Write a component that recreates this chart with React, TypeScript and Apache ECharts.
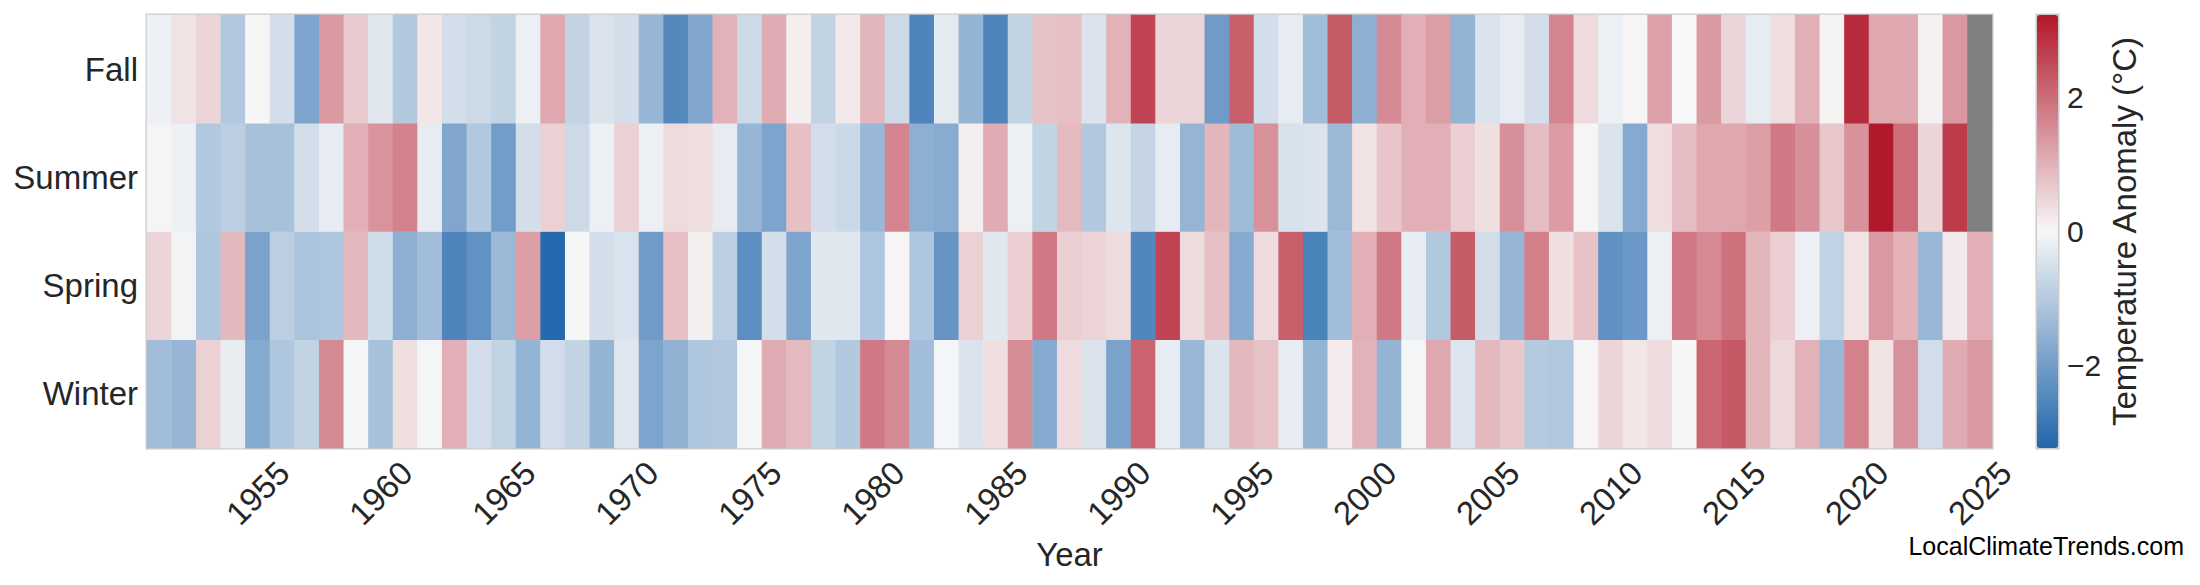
import React, { useEffect, useRef } from 'react';
import * as echarts from 'echarts';

const FONT = "'Liberation Sans', Arial, Helvetica, sans-serif";
const TEXT = '#262626';

const firstYear = 1951;
const lastYear = 2025;
const years: string[] = [];
for (let y = firstYear; y <= lastYear; y++) years.push(String(y));

const seasons = ['Winter', 'Spring', 'Summer', 'Fall'];

const fall: (number | null)[] = [
  -0.15, 0.3, 0.5, -1.05, 0.02, -0.55, -1.85, 1.35, 0.65, -0.35,
  -1.05, 0.25, -0.55, -0.65, -0.8, -0.17, 1.15, -0.8, -0.42, -0.55,
  -1.45, -2.45, -1.8, 1.0, -0.65, 1.1, 0.12, -0.8, 0.2, 0.95,
  -0.65, -2.55, -0.3, -1.5, -2.55, -0.8, 0.75, 0.8, -0.42, 1.0,
  2.6, 0.5, 0.5, -2.05, 2.2, -0.55, -0.25, -1.3, 2.25, -1.6,
  1.58, 1.05, 1.3, -1.5, -0.42, -0.25, -0.55, 1.65, 0.4, -0.17,
  0.05, 1.25, 0.0, 1.35, 0.5, -0.25, 0.38, 1.05, 0.06, 2.97,
  1.15, 1.15, 0.1, 1.37, null,
];

const summer: (number | null)[] = [
  0.05, -0.15, -1.05, -0.9, -1.2, -1.2, -0.55, -0.25, 1.05, 1.45,
  1.7, -0.25, -1.8, -1.05, -2.0, -0.55, 0.55, -0.65, -0.17, 0.55,
  -0.17, 0.4, 0.37, -0.25, -1.45, -1.85, 0.8, -0.55, -0.68, -1.42,
  1.65, -1.6, -1.68, 0.12, 1.1, -0.17, -0.8, 0.88, -1.05, -0.4,
  -0.75, -0.25, -1.47, 0.95, -1.35, 1.48, -0.48, -0.42, -1.4, 0.3,
  0.72, 1.05, 1.05, 0.58, 0.35, 1.5, 0.85, 1.32, 0.05, -0.42,
  -1.72, 0.37, 0.85, 1.15, 1.15, 1.28, 1.85, 1.5, 0.7, 1.47,
  3.24, 2.0, 0.5, 2.72, null,
];

const spring: (number | null)[] = [
  0.5, -0.08, -1.1, 0.9, -1.9, -0.9, -1.15, -1.1, 0.9, -0.6,
  -1.6, -1.3, -2.55, -2.25, -1.4, 1.28, -3.2, 0.02, -0.55, -0.45,
  -2.05, 0.8, 0.12, -0.9, -2.35, -0.55, -1.85, -0.35, -0.35, -1.1,
  0.05, -1.1, -2.2, 0.55, -0.35, 0.58, 1.85, 0.58, 0.52, 0.4,
  -2.5, 2.6, 0.4, 0.8, -1.7, 0.4, 2.2, -2.62, -1.3, 1.05,
  1.84, -0.25, -1.05, 2.25, -0.55, -1.45, 1.75, 0.35, 0.75, -2.28,
  -2.12, -0.17, 1.85, 1.6, 1.95, 0.95, 0.58, -0.17, -0.82, 0.3,
  1.37, 1.0, -1.42, 0.2, 1.05,
];

const winter: (number | null)[] = [
  -1.3, -1.45, 0.55, -0.22, -1.72, -1.1, -0.8, 1.6, -0.05, -1.2,
  0.35, -0.05, 1.05, -0.55, -0.8, -1.5, -0.57, -0.8, -1.5, -0.37,
  -1.85, -1.55, -1.1, -1.05, -0.05, 1.1, 0.88, -0.8, -1.05, 1.84,
  1.6, -1.3, -0.05, -0.42, 0.35, 1.55, -1.72, 0.4, -0.42, -1.9,
  2.15, -0.25, -1.43, -0.42, 0.9, 0.75, -0.25, -1.5, 0.18, 1.0,
  -1.5, -0.05, 1.15, -0.4, 0.9, 0.68, -1.0, -1.08, 0.05, 0.5,
  0.25, 0.4, 0.02, 2.12, 2.3, 0.95, 0.45, 1.0, -1.42, 1.7,
  0.3, 1.48, -0.57, 1.1, 1.35,
];

const colorMin = -3.24;
const colorMax = 3.24;
const colorbarTicks = [-2, 0, 2];
const paletteStops = ['#2166ac', '#f7f7f7', '#b2182b'];
const missingColor = '#808080';

export default function App() {
  const ref = useRef<HTMLDivElement>(null);

  useEffect(() => {
    if (!ref.current) return;
    const chart = echarts.init(ref.current, null, { renderer: 'svg' });

    const rows = [winter, spring, summer, fall];
    const cells: number[][] = [];
    const missing: number[][] = [];
    rows.forEach((row, yi) => {
      row.forEach((v, xi) => {
        if (v === null) missing.push([xi, yi, 0]);
        else cells.push([xi, yi, v]);
      });
    });

    const fmtTick = (v: number) => (v < 0 ? '\u2212' + Math.abs(v) : String(v));

    chart.setOption({
      animation: false,
      backgroundColor: '#ffffff',
      textStyle: { fontFamily: FONT },
      grid: [
        {
          left: 147, top: 15, width: 1845, height: 433,
          show: true, borderColor: '#cccccc', borderWidth: 3,
          backgroundColor: 'transparent',
        },
        {
          left: 2037, top: 15, width: 21, height: 433,
          show: true, borderColor: '#cccccc', borderWidth: 3,
          backgroundColor: 'transparent',
        },
      ],
      xAxis: [
        {
          type: 'category',
          gridIndex: 0,
          data: years,
          axisLine: { show: false },
          axisTick: { show: false },
          splitLine: { show: false },
          axisLabel: {
            interval: (_i: number, v: string) => Number(v) % 5 === 0,
            rotate: 45,
            align: 'center',
            verticalAlign: 'middle',
            margin: 45,
            fontSize: 33,
            color: TEXT,
            fontFamily: FONT,
          },
          name: 'Year',
          nameLocation: 'middle',
          nameGap: 87,
          nameTextStyle: { fontSize: 33, color: TEXT, fontFamily: FONT },
        },
        { type: 'value', gridIndex: 1, show: false, min: 0, max: 1 },
      ],
      yAxis: [
        {
          type: 'category',
          gridIndex: 0,
          data: seasons,
          axisLine: { show: false },
          axisTick: { show: false },
          splitLine: { show: false },
          axisLabel: { fontSize: 33, color: TEXT, margin: 9, fontFamily: FONT },
        },
        {
          type: 'value',
          gridIndex: 1,
          position: 'right',
          min: colorMin,
          max: colorMax,
          axisLine: { show: false },
          axisTick: { show: false },
          splitLine: { show: false },
          axisLabel: {
            customValues: colorbarTicks,
            formatter: fmtTick,
            fontSize: 30,
            color: TEXT,
            margin: 9,
            fontFamily: FONT,
          },
          name: 'Temperature Anomaly (\u00b0C)',
          nameLocation: 'middle',
          nameRotate: 90,
          nameGap: 50,
          nameTextStyle: { fontSize: 33, color: TEXT, fontFamily: FONT },
        },
      ],
      visualMap: [
        {
          type: 'continuous',
          seriesIndex: 0,
          min: colorMin,
          max: colorMax,
          inRange: { color: paletteStops },
          calculable: false,
          show: true,
          orient: 'vertical',
          left: 2037,
          top: 15,
          itemWidth: 21,
          itemHeight: 433,
          padding: 0,
          textGap: 0,
          hoverLink: false,
        },
        {
          type: 'continuous',
          seriesIndex: 1,
          min: 0,
          max: 1,
          inRange: { color: [missingColor, missingColor] },
          show: false,
        },
      ],
      series: [
        {
          type: 'heatmap',
          xAxisIndex: 0,
          yAxisIndex: 0,
          data: cells,
          emphasis: { disabled: true },
          progressive: 0,
        },
        {
          type: 'heatmap',
          xAxisIndex: 0,
          yAxisIndex: 0,
          data: missing,
          emphasis: { disabled: true },
        },
      ],
      graphic: [
        {
          type: 'text',
          x: 2184,
          y: 546,
          style: {
            text: 'LocalClimateTrends.com',
            fontSize: 25,
            fontFamily: FONT,
            fill: '#000000',
            align: 'right',
            verticalAlign: 'middle',
          },
        },
      ],
    });

    return () => chart.dispose();
  }, []);

  return (
    <div
      ref={ref}
      style={{ position: 'fixed', left: 0, top: 0, width: 2200, height: 585, background: '#fff' }}
    />
  );
}
